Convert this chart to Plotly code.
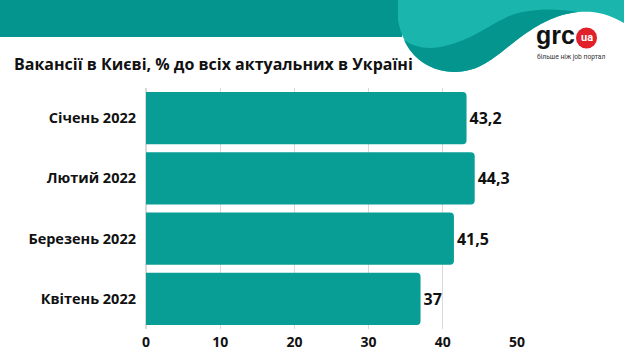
import plotly.graph_objects as go

# ---- data ----
months = ["Січень 2022", "Лютий 2022", "Березень 2022", "Квітень 2022"]
shares = [43.2, 44.3, 41.5, 37]
x_ticks = [0, 10, 20, 30, 40, 50]
title_text = "Вакансії в Києві, % до всіх актуальних в Україні"
logo_text = "grc"
logo_badge = "ua"
logo_tagline = "більше ніж job портал"

labels = [f"{v:g}".replace(".", ",") for v in shares]

# ---- layout geometry (pixels) ----
W, H = 624, 355
ML, MR, MT, MB = 146, 107, 88, 26
PW, PH = W - ML - MR, H - MT - MB


def px(x):
    return (x - ML) / PW


def py(y):
    return (H - MB - y) / PH


def path(cmds):
    out = []
    for c in cmds:
        if isinstance(c, str):
            out.append(c)
        else:
            out.append(f"{px(c[0]):.5f},{py(c[1]):.5f}")
    return " ".join(out)


DARK = "#04958F"
LIGHT = "#1AB6AE"
BAR = "#089E96"

fig = go.Figure()
fig.add_trace(go.Bar(
    y=months, x=shares, orientation="h",
    marker=dict(color=BAR, cornerradius=4, line=dict(width=0)),
    text=labels, textposition="outside", cliponaxis=False,
    textfont=dict(family="Open Sans", size=16, color="#111111", weight=700),
    hoverinfo="skip",
))

shapes = []
# top band
shapes.append(dict(type="path", xref="paper", yref="paper", layer="below",
                   path=path(["M", (0, 0), "L", (402, 0), "L", (402, 37), "L", (0, 37), "Z"]),
                   fillcolor=DARK, line=dict(width=0)))
# light blob
shapes.append(dict(type="path", xref="paper", yref="paper", layer="below",
                   path=path(["M", (398, 0), "L", (624, 0), "L", (624, 23),
                              "C", (605, 12), (592, 11), (578, 12),
                              "C", (550, 15), (530, 30), (513, 43),
                              "C", (495, 57), (480, 72), (455, 72),
                              "C", (425, 72), (403, 50), (398, 20), "Z"]),
                   fillcolor=LIGHT, line=dict(width=0)))
# darker wave
shapes.append(dict(type="path", xref="paper", yref="paper", layer="below",
                   path=path(["M", (404, 40),
                              "C", (415, 48), (430, 50), (445, 46),
                              "C", (470, 40), (485, 28), (505, 18),
                              "C", (525, 8), (555, 8), (578, 12),
                              "C", (550, 15), (530, 30), (513, 43),
                              "C", (495, 57), (480, 72), (455, 72),
                              "C", (430, 72), (412, 58), (404, 40), "Z"]),
                   fillcolor=DARK, line=dict(width=0)))
# logo badge
shapes.append(dict(type="circle", xref="paper", yref="paper", layer="above",
                   x0=px(576), x1=px(597), y0=py(48.5), y1=py(27.5),
                   fillcolor="#E0202A", line=dict(width=0)))

annotations = [
    dict(text=title_text, xref="paper", yref="paper", x=px(12), y=py(64),
         xanchor="left", yanchor="middle", showarrow=False,
         font=dict(family="Open Sans", size=16, color="#111111", weight=700)),
    dict(text=logo_text, xref="paper", yref="paper", x=px(555.5), y=py(35),
         xanchor="center", yanchor="middle", showarrow=False,
         font=dict(family="Liberation Sans", size=25, color="#111111", weight=700)),
    dict(text=logo_badge, xref="paper", yref="paper", x=px(586.5), y=py(37),
         xanchor="center", yanchor="middle", showarrow=False,
         font=dict(family="Roboto", size=11, color="#ffffff", weight=700)),
    dict(text=logo_tagline, xref="paper", yref="paper", x=px(571), y=py(57),
         xanchor="center", yanchor="middle", showarrow=False,
         font=dict(family="Roboto", size=6.7, color="#333333")),
]

fig.update_layout(
    width=W, height=H, autosize=False,
    margin=dict(l=ML, r=MR, t=MT, b=MB, pad=0, autoexpand=False),
    paper_bgcolor="white", plot_bgcolor="white",
    showlegend=False, bargap=0.135,
    shapes=shapes, annotations=annotations,
    xaxis=dict(range=[0, 50], tickvals=x_ticks, showgrid=True, gridcolor="#D9D9D9",
               gridwidth=1, zeroline=True, zerolinecolor="#D9D9D9", showline=False,
               automargin=False, ticklabelstandoff=3,
               tickfont=dict(family="Open Sans", size=14, color="#111111", weight=700),
               fixedrange=True),
    yaxis=dict(autorange="reversed", showgrid=False, showline=False, zeroline=False,
               automargin=False, ticklabelstandoff=9,
               tickfont=dict(family="Open Sans", size=14.5, color="#111111", weight=700),
               fixedrange=True),
)

fig.write_html("out.html", config={"displayModeBar": False})

# remove the browser's default body margin so the figure sits at the page origin
with open("out.html", "r", encoding="utf-8") as f:
    html = f.read()
html = html.replace("<body>", '<body style="margin:0;padding:0;overflow:hidden">', 1)
with open("out.html", "w", encoding="utf-8") as f:
    f.write(html)
